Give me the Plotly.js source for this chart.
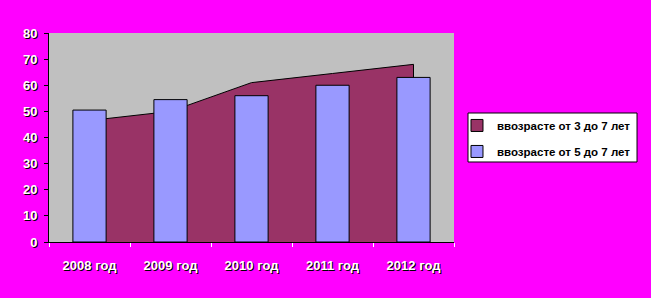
<!DOCTYPE html>
<html><head><meta charset="utf-8">
<script src="https://cdn.plot.ly/plotly-3.0.1.min.js"></script>
<style>html,body{margin:0;padding:0;background:#FF00FF;}#c{width:651px;height:298px;}</style>
</head><body><div id="c"></div>
<script>
var categories = ['2008 год','2009 год','2010 год','2011 год','2012 год'];
var age3to7 = [46.5, 50, 61, 64.5, 68];
var age5to7 = [50.5, 54.5, 56, 60, 63];
var yTicks = [0,10,20,30,40,50,60,70,80];
var seriesNames = ['ввозрасте от 3 до 7 лет', 'ввозрасте от 5 до 7 лет'];
var seriesColors = ['#993366', '#9999FF'];

var areaX = [categories[0]].concat(categories, [categories[categories.length-1]]);
var areaY = [0].concat(age3to7, [0]);

var traces = [
  {type:'scatter', mode:'lines', name:seriesNames[0], x:areaX, y:areaY, showlegend:false,
   fill:'toself', fillcolor:seriesColors[0], line:{color:'#000', width:1}, xaxis:'x', yaxis:'y', hoverinfo:'skip'},
  // legend key for the area series (square key, like the original); draws nothing
  {type:'bar', name:seriesNames[0], x:[categories[0]], y:[null], legendgroup:'a',
   marker:{color:seriesColors[0], line:{color:'#000', width:1}}, xaxis:'x2', yaxis:'y2'},
  {type:'bar', name:seriesNames[1], x:categories, y:age5to7, width:0.41, legendgroup:'b',
   marker:{color:seriesColors[1], line:{color:'#000', width:1}}, xaxis:'x2', yaxis:'y2'}
];
var tickFont = {family:'Arial, Liberation Sans, sans-serif', size:13, color:'#fff', weight:700, shadow:'1px 1px 0px #000'};
var layout = {
  width:651, height:298,
  paper_bgcolor:'#FF00FF', plot_bgcolor:'#C0C0C0',
  margin:{l:49, r:197, t:33, b:56},
  showlegend:true, barmode:'overlay',
  legend:{x:1.0074, y:0.627, xanchor:'left', yanchor:'top', bgcolor:'rgba(0,0,0,0)', borderwidth:0,
    font:{family:'Arial, Liberation Sans, sans-serif', size:11.5, color:'#000', weight:700},
    traceorder:'grouped', tracegroupgap:7, itemwidth:30},
  xaxis:{type:'category', categoryarray:categories, range:[-0.5,4.5], showline:true, linecolor:'#000', linewidth:1,
    ticks:'outside', tickson:'boundaries', ticklen:4, tickcolor:'#fff', showgrid:false, zeroline:false,
    tickfont:tickFont, ticklabelstandoff:11, fixedrange:true},
  yaxis:{range:[0,80], tickvals:yTicks, showline:true, linecolor:'#000', linewidth:1, ticks:'outside', ticklen:4,
    tickcolor:'#000', showgrid:false, zeroline:false, tickfont:tickFont, ticklabelstandoff:4, fixedrange:true},
  xaxis2:{type:'category', categoryarray:categories, range:[-0.5,4.5], overlaying:'x', visible:false},
  yaxis2:{range:[0,80], overlaying:'y', visible:false},
  shapes:[
    {type:'rect', xref:'paper', yref:'paper', x0:1.0346, x1:1.4519, y0:0.3828, y1:0.6172,
     fillcolor:'#fff', line:{color:'#000', width:1}, layer:'below'}
  ]
};
Plotly.newPlot('c', traces, layout, {displayModeBar:false, staticPlot:true});
</script></body></html>
